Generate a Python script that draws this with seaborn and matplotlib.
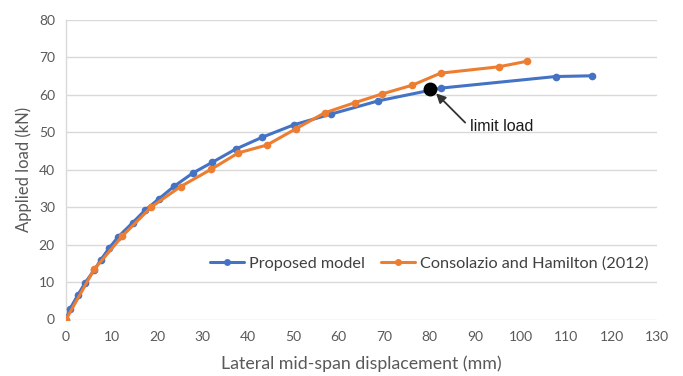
import matplotlib
matplotlib.use("Agg")
import matplotlib.pyplot as plt
import seaborn as sns
import pandas as pd

proposed_x = [0, 0.9, 2.6, 4.2, 6.2, 7.7, 9.5, 11.5, 14.7, 17.4, 20.5, 23.8, 28.0, 32.2,
              37.3, 43.2, 50.1, 58.4, 68.7, 82.4, 107.7, 115.8]
proposed_y = [0, 2.9, 6.5, 9.8, 13.2, 16.0, 19.1, 22.1, 25.9, 29.2, 32.3, 35.6, 39.2, 42.0,
              45.5, 48.7, 52.0, 54.9, 58.4, 61.8, 64.9, 65.1]
consol_x = [0, 6.2, 12.4, 18.8, 25.2, 31.9, 37.9, 44.2, 50.5, 56.9, 63.5, 69.4, 76.2, 82.4,
            95.2, 101.5]
consol_y = [0, 13.4, 22.3, 30.1, 35.5, 40.1, 44.5, 46.6, 50.9, 55.2, 57.9, 60.2, 62.6, 65.8,
            67.5, 69.0]
series_names = ["Proposed model", "Consolazio and Hamilton (2012)"]
limit_x, limit_y = 80.1, 61.6
x_ticks = list(range(0, 131, 10))
y_ticks = list(range(0, 81, 10))

df = pd.concat([
    pd.DataFrame({"x": proposed_x, "y": proposed_y, "s": series_names[0]}),
    pd.DataFrame({"x": consol_x, "y": consol_y, "s": series_names[1]}),
])

sns.set_theme(style="white")
plt.rcParams['font.family'] = ['Lato', 'DejaVu Sans']

fig = plt.figure(figsize=(6.83, 3.76), dpi=100)
ax = fig.add_axes([66/683, 1 - 319.5/376, (657-66)/683, (319.5-20)/376])

palette = {series_names[0]: "#4472C4", series_names[1]: "#ED7D31"}
sns.lineplot(data=df, x="x", y="y", hue="s", palette=palette, marker="o",
             markersize=5.5, markeredgewidth=0, linewidth=2.2, sort=False,
             estimator=None, ax=ax, zorder=3)

ax.plot([limit_x], [limit_y], "o", color="black", markersize=9, zorder=5)
ax.annotate("", xy=(81.4, 60.4), xytext=(87.8, 52.6),
            arrowprops=dict(arrowstyle="-|>", color="#333333", lw=1.3,
                            mutation_scale=14, shrinkA=0, shrinkB=0),
            zorder=6)
ax.text(88.8, 51.5, "limit load", fontsize=11.5, color="#1a1a1a",
        family=["Liberation Sans", "DejaVu Sans"], va="center", ha="left", zorder=6)

ax.set_xlim(0, 130)
ax.set_ylim(0, 80)
ax.set_xticks(x_ticks)
ax.set_yticks(y_ticks)
ax.tick_params(axis="both", labelsize=10, colors="#595959", length=0, pad=8)
ax.yaxis.grid(True, color="#D9D9D9", linewidth=1)
ax.xaxis.grid(False)
for side in ["top", "right", "bottom"]:
    ax.spines[side].set_visible(False)
ax.spines["left"].set_color("#D9D9D9")
ax.spines["left"].set_linewidth(1)
ax.set_xlabel("Lateral mid-span displacement (mm)", fontsize=12.8, color="#595959", labelpad=9)
ax.set_ylabel("Applied load (kN)", fontsize=12, color="#595959", labelpad=5)

leg = ax.legend(loc="center left", bbox_to_anchor=(0.243, 0.186), ncol=2, frameon=False,
                fontsize=11.7, handlelength=2.1, columnspacing=1.0, handletextpad=0.3,
                labelcolor="#404040", borderaxespad=0, borderpad=0)
for h in leg.legend_handles:
    h.set_markersize(5)

fig.savefig("out.png", dpi=100, facecolor="white")
